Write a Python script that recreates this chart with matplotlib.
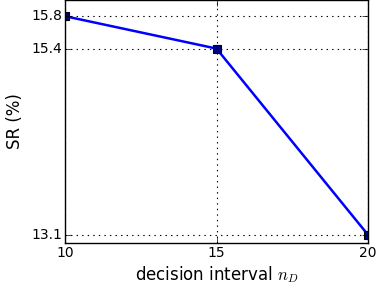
import matplotlib
matplotlib.use("Agg")
import matplotlib.pyplot as plt

intervals = [10, 15, 20]
sr = [15.8, 15.4, 13.1]

plt.style.use("classic")
fig = plt.figure(figsize=(3.79, 2.92), dpi=100, facecolor="white")
ax = fig.add_axes([0.1715, 0.168, 0.7995, 0.832])

ax.plot(intervals, sr, color="blue", lw=1.8, marker="s", markersize=5.5,
        markerfacecolor="#00008b", markeredgecolor="black", markeredgewidth=0.8)

ax.set_xlim(10, 20)
ax.set_ylim(13.0, 16.0)
ax.set_xticks(intervals)
ax.set_yticks(sr)
ax.set_yticklabels(["15.8", "15.4", "13.1"])
ax.grid(True, color="black", linestyle=":", linewidth=0.8)
ax.tick_params(labelsize=10, pad=2)
ax.set_xlabel("decision interval $n_D$", fontsize=12, labelpad=3)
ax.set_ylabel("SR (%)", fontsize=12)

fig.savefig("out.png", dpi=100, facecolor="white")
